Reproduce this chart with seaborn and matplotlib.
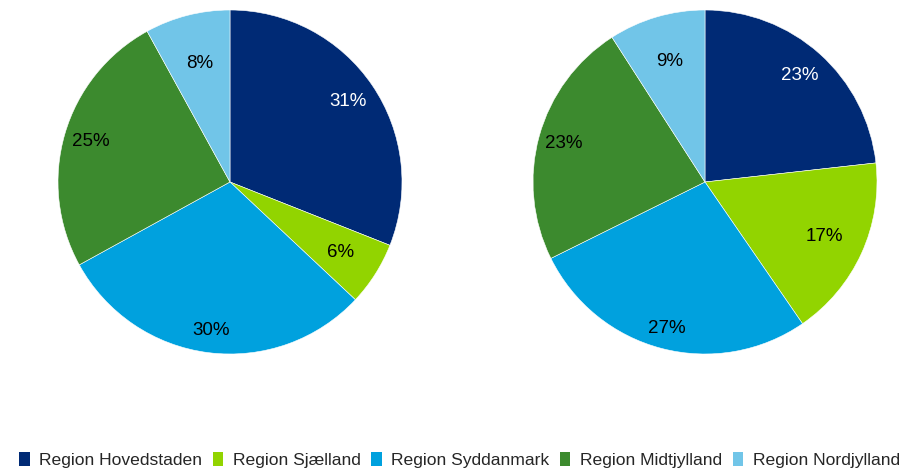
import numpy as np
import matplotlib
matplotlib.use("Agg")
import matplotlib.pyplot as plt
import seaborn as sns
from matplotlib.patches import Patch

regions = ["Region Hovedstaden", "Region Sjælland", "Region Syddanmark",
           "Region Midtjylland", "Region Nordjylland"]
share_left = [31, 6, 30, 25, 8]
share_right = [23, 17, 27, 23, 9]

colors = ["#002A75", "#92D400", "#00A1DE", "#3C8A2E", "#71C5E8"]
label_colors = ["white", "black", "black", "black", "black"]
label_dist_left = [0.83, 0.76, 0.87, 0.84, 0.71]
label_dist_right = [0.83, 0.76, 0.88, 0.85, 0.73]

sns.set_theme(style="white")
plt.rcParams["font.family"] = ["Liberation Sans", "DejaVu Sans"]
palette = sns.color_palette(colors)

W, H = 919, 470
fig = plt.figure(figsize=(W / 100, H / 100), dpi=100)
R = 172


def draw_pie(cx, cy, values, dists):
    ax = fig.add_axes([(cx - R) / W, (H - cy - R) / H, 2 * R / W, 2 * R / H])
    wedges, _ = ax.pie(values, colors=palette, startangle=90, counterclock=False,
                       radius=1.0, wedgeprops=dict(edgecolor="white", linewidth=0.4))
    for w, v, d, tc in zip(wedges, values, dists, label_colors):
        mid = np.deg2rad((w.theta1 + w.theta2) / 2)
        ax.text(d * np.cos(mid), d * np.sin(mid), f"{v}%", ha="center", va="center",
                fontsize=13.5, color=tc)
    ax.set_xlim(-1, 1)
    ax.set_ylim(-1, 1)
    ax.set_aspect("equal")
    ax.axis("off")
    return ax


draw_pie(230, 182, share_left, label_dist_left)
draw_pie(705, 182, share_right, label_dist_right)

handles = [Patch(facecolor=c, edgecolor="none") for c in palette]
fig.legend(handles, regions, loc="center", bbox_to_anchor=(0.5, 1 - 460 / H), ncol=5,
           frameon=False, fontsize=12.6, handlelength=0.6, handleheight=0.8,
           handletextpad=0.55, columnspacing=0.6, borderpad=0)

fig.savefig("out.png", dpi=100, facecolor="white")
